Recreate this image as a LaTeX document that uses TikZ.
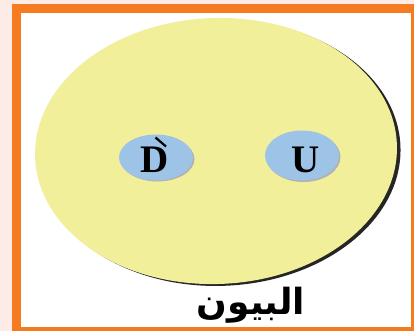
\documentclass[tikz,border=0pt]{standalone}
\usepackage{fontspec}
\setmainfont{Liberation Serif}
\newfontfamily\arabicfont[Script=Arabic]{DejaVu Sans}
\TeXXeTstate=1
\definecolor{bgpink}{HTML}{FCEBE6}
\definecolor{frameorange}{HTML}{F47B20}
\definecolor{pionyellow}{HTML}{F2EF9B}
\definecolor{quarkblue}{HTML}{9DC3E6}
\usetikzlibrary{shapes.geometric}
\tikzset{
  quark/.style={ellipse, fill=quarkblue, minimum width=74pt, minimum height=46pt, inner sep=0pt},
  quarklabel/.style={font=\fontsize{39}{39}\selectfont\bfseries, inner sep=0pt},
}
\begin{document}
\begin{tikzpicture}[x=1pt,y=-1pt]
\useasboundingbox (0,0) rectangle (414,331);
\fill[bgpink] (0,0) rectangle (414,331);
\fill[frameorange] (12,4) rectangle (414,331);
\fill[white] (20.5,13) rectangle (410.7,327);
% pion ellipse with shadow
\fill[black!85, rotate around={2:(216,151)}] (219.5,153) ellipse [x radius=181, y radius=133];
\fill[pionyellow, rotate around={2:(216,151)}] (216,151) ellipse [x radius=181, y radius=133];
% quarks
\fill[gray!60] (157.5,159) ellipse [x radius=37, y radius=22.5];
\fill[gray!60] (303.5,157) ellipse [x radius=37, y radius=25];
\node[quark] (d) at (156,157.5) {};
\node[quark, minimum height=50pt] (u) at (302,155.5) {};
\node[quarklabel] (dl) at (155,160) {D};
\node[quarklabel] (ul) at (306,160) {U};
\draw[line width=2.2pt] (155.5,137.5) -- (166,146.5);
\node[font=\arabicfont\fontsize{36}{36}\selectfont\bfseries] (label) at (251,305) {\beginR البيون\endR};
\end{tikzpicture}
\end{document}
